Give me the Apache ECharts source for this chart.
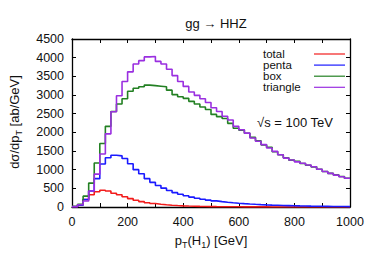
<!DOCTYPE html>
<html>
<head>
<meta charset="utf-8">
<script src="https://cdn.jsdelivr.net/npm/echarts@6/dist/echarts.min.js"></script>
<style>
html,body{margin:0;padding:0;background:#fff;}
#chart{width:374px;height:262px;}
</style>
</head>
<body>
<div id="chart"></div>
<script>
// bins: 20 GeV wide, from 0 to 1000 GeV
const binStart = 0;
const binWidth = 20;
const xTicks = [0, 200, 400, 600, 800, 1000];
const yTicks = [0, 500, 1000, 1500, 2000, 2500, 3000, 3500, 4000, 4500];
const seriesNames = ['total', 'penta', 'box', 'triangle'];

const total = [5, 60, 200, 330, 410, 450, 430, 370, 330, 275,
  225, 180, 145, 115, 92, 74, 60, 48, 39, 31,
  25, 20, 16, 13, 11, 9, 8, 7, 6, 5,
  4, 4, 3, 3, 3, 2, 2, 2, 2, 2,
  2, 1, 1, 1, 1, 1, 1, 1, 1, 1];
const penta = [5, 50, 200, 430, 760, 1150, 1320, 1385, 1370, 1300,
  1160, 1000, 890, 760, 660, 575, 505, 440, 385, 340,
  300, 265, 235, 208, 184, 163, 145, 129, 115, 102,
  91, 81, 72, 64, 57, 51, 46, 41, 37, 33,
  29, 26, 23, 21, 19, 17, 15, 14, 12, 11];
const box = [20, 70, 290, 640, 1180, 1700, 2160, 2560, 2760, 2900,
  3100, 3180, 3220, 3265, 3250, 3235, 3220, 3130, 3010, 2955,
  2910, 2830, 2760, 2680, 2610, 2480, 2420, 2370, 2240, 2110,
  2060, 1975, 1865, 1775, 1665, 1600, 1480, 1400, 1320, 1255,
  1225, 1165, 1120, 1075, 1010, 950, 900, 860, 815, 770];
const triangle = [10, 60, 160, 430, 880, 1420, 1960, 2550, 2980, 3360,
  3620, 3830, 3920, 4020, 4030, 3900, 3830, 3690, 3520, 3360,
  3230, 3080, 2990, 2900, 2800, 2660, 2560, 2430, 2330, 2160,
  2070, 1980, 1850, 1760, 1670, 1580, 1490, 1400, 1310, 1260,
  1210, 1170, 1125, 1080, 1010, 950, 900, 855, 810, 770];

const colors = ['#f21b1b', '#1a1aff', '#238023', '#9a2fe0'];

function toSteps(vals) {
  const pts = vals.map((v, i) => [binStart + i * binWidth, v]);
  pts.push([binStart + vals.length * binWidth, vals[vals.length - 1]]);
  return pts;
}

const FONT = 'Liberation Sans, Arial, Helvetica, sans-serif';
const chart = echarts.init(document.getElementById('chart'), null, {renderer: 'svg'});

const tickLine = {color: '#000', width: 1};
const commonX = {
  type: 'value', min: xTicks[0], max: xTicks[xTicks.length - 1], interval: 200,
  splitLine: {show: false},
  axisLine: {show: true, onZero: false, lineStyle: {color: '#000', width: 1.3}},
  axisTick: {show: true, inside: true, length: 4, lineStyle: tickLine},
  minorTick: {show: true, splitNumber: 2, length: 4, lineStyle: tickLine}
};
const commonY = {
  type: 'value', min: yTicks[0], max: yTicks[yTicks.length - 1], interval: 500,
  splitLine: {show: false},
  axisLine: {show: true, onZero: false, lineStyle: {color: '#000', width: 1.3}},
  axisTick: {show: true, inside: true, length: 4, lineStyle: tickLine}
};

const dataSets = [total, penta, box, triangle];

chart.setOption({
  animation: false,
  backgroundColor: '#fff',
  textStyle: {fontFamily: FONT},
  title: {
    text: 'gg \u2192 HHZ', left: 211, top: 12, textAlign: 'center',
    textStyle: {fontSize: 13, fontWeight: 'normal', color: '#111', fontFamily: FONT}
  },
  grid: {left: 72, right: 24, top: 39, bottom: 55},
  legend: {
    orient: 'vertical', left: 258, top: 43, align: 'right',
    itemWidth: 31, itemHeight: 10, itemGap: -0.9,
    icon: 'path://M0,4.4 L31,4.4 L31,5.6 L0,5.6 Z',
    data: seriesNames.map((n, i) => ({name: n, itemStyle: {color: colors[i]}})),
    formatter: n => '{t|' + n + '}',
    textStyle: {
      color: '#111', fontFamily: FONT, fontSize: 11.5, lineHeight: 10, padding: [0, 0, 0, 0],
      rich: {t: {width: 46, height: 10, align: 'left', fontSize: 11.5, fontFamily: FONT, color: '#111', lineHeight: 10}}
    }
  },
  xAxis: [
    Object.assign({}, commonX, {
      position: 'bottom',
      axisLabel: {show: true, margin: 8, color: '#111', fontSize: 12.5, fontFamily: FONT,
        formatter: v => String(v)}
    }),
    Object.assign({}, commonX, {position: 'top', axisLabel: {show: false}})
  ],
  yAxis: [
    Object.assign({}, commonY, {
      position: 'left',
      axisLabel: {show: true, margin: 8, color: '#111', fontSize: 12.5, fontFamily: FONT,
        formatter: v => String(v)}
    }),
    Object.assign({}, commonY, {position: 'right', axisLabel: {show: false}})
  ],
  series: seriesNames.map((n, i) => ({
    name: n, type: 'line', step: 'end', symbol: 'none',
    xAxisIndex: 0, yAxisIndex: 0,
    data: toSteps(dataSets[i]),
    lineStyle: {color: colors[i], width: 1.6},
    itemStyle: {color: colors[i]},
    z: 2 + i
  })),
  graphic: [
    {
      type: 'text', left: 257, top: 116,
      style: {text: '\u221As = 100 TeV', fontSize: 13, fontFamily: FONT, fill: '#111'}
    },
    {
      type: 'text', x: 211, y: 240,
      style: {
        text: '{a|p}{s|T}{a|(H}{s|1}{a|) [GeV]}',
        align: 'center', verticalAlign: 'middle',
        rich: {
          a: {fontSize: 13, fontFamily: FONT, fill: '#111', lineHeight: 18, verticalAlign: 'middle'},
          s: {fontSize: 9, fontFamily: FONT, fill: '#111', lineHeight: 9, verticalAlign: 'bottom'}
        }
      }
    },
    {
      type: 'text', x: 14, y: 122, rotation: Math.PI / 2,
      style: {
        text: '{a|d\u03C3/dp}{s|T}{a| [ab/GeV]}',
        align: 'center', verticalAlign: 'middle',
        rich: {
          a: {fontSize: 13, fontFamily: FONT, fill: '#111', lineHeight: 18, verticalAlign: 'middle'},
          s: {fontSize: 9, fontFamily: FONT, fill: '#111', lineHeight: 9, verticalAlign: 'bottom'}
        }
      }
    }
  ]
});
</script>
</body>
</html>
